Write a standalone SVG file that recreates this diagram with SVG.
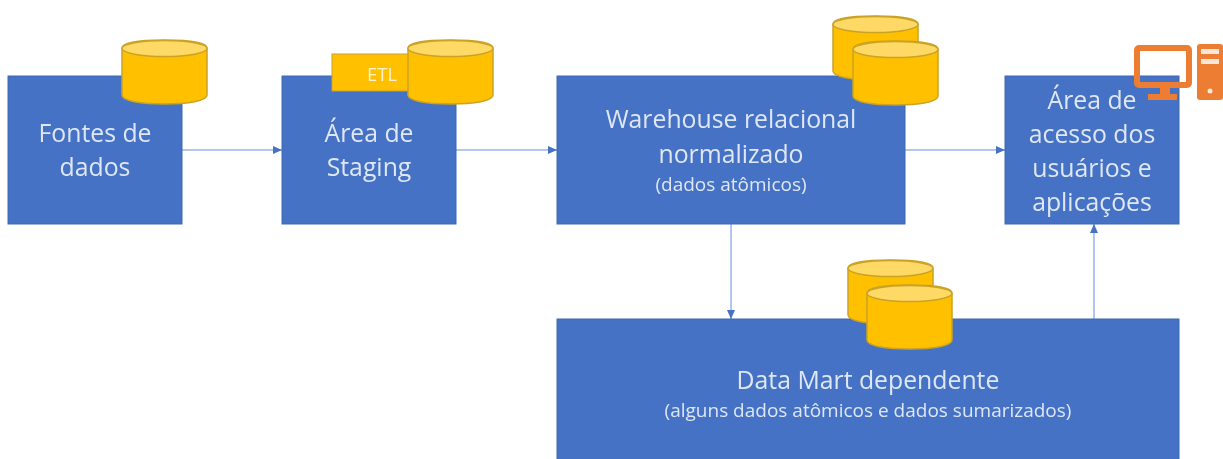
<svg xmlns="http://www.w3.org/2000/svg" width="1223" height="459" viewBox="0 0 1223 459">
<style>
.box{fill:#4472c4;stroke:#3f68b2;stroke-width:1}
.t{font-family:"Open Sans","Noto Sans",sans-serif;fill:#dfe7f5;text-anchor:middle}
.l{font-size:24.8px}
.s{font-size:19px}
.e{font-size:18.500px;fill:#fff2cc}
.body{fill:#ffc000;stroke:#c9a227;stroke-width:1.5}
.top{fill:#ffd966;stroke:#c9a227;stroke-width:1.5}
.c{stroke:#9db5e0;stroke-width:1.5;fill:none;marker-end:url(#a)}
.o{fill:#ed7d31}
.w{fill:#fbe5d6}
</style>
<defs>
<marker id="a" markerUnits="userSpaceOnUse" markerWidth="10" markerHeight="10" refX="9" refY="5" orient="auto"><path d="M0 1L9 5L0 9Z" fill="#4472c4"/></marker>
<g id="cyl"><path class="body" d="M0 8C0 2 19 0 42.500 0S85 2 85 8V55C85 61 66 64 42.500 64S0 61 0 55Z"/><ellipse class="top" cx="42.500" cy="8.500" rx="42.500" ry="8"/></g>
<filter id="b" filterUnits="userSpaceOnUse" x="0" y="0" width="1223" height="459"><feGaussianBlur stdDeviation="0.65"/></filter>
</defs>
<rect width="1223" height="459" fill="#fff"/>
<g filter="url(#b)">
<g id="connectors">
<path class="c" d="M182 150H282"/>
<path class="c" d="M456 150H557"/>
<path class="c" d="M905 150H1005"/>
<path class="c" d="M731 224V319"/>
<path class="c" d="M1094 319V224"/>
</g>
<g id="fontes"><rect class="box" x="8" y="76" width="174" height="148"/>
<text class="t l" x="95" y="142">Fontes de</text><text class="t l" x="95" y="176">dados</text>
<use href="#cyl" x="122" y="40"/></g>
<g id="staging"><rect class="box" x="282" y="76" width="174" height="148"/>
<text class="t l" x="369" y="142">Área de</text><text class="t l" x="369" y="176">Staging</text>
<rect x="332" y="54" width="78" height="37" fill="#ffc000" stroke="#c9a227"/>
<text class="t e" x="382" y="81">ETL</text>
<use href="#cyl" x="408" y="40"/></g>
<g id="warehouse"><rect class="box" x="557" y="76" width="348" height="148"/>
<text class="t l" x="731" y="128">Warehouse relacional</text><text class="t l" x="731" y="163">normalizado</text>
<text class="t s" x="731" y="191">(dados atômicos)</text>
<use href="#cyl" x="833" y="16"/><use href="#cyl" x="853" y="41"/></g>
<g id="acesso"><rect class="box" x="1005" y="76" width="174" height="148"/>
<text class="t l" x="1092" y="109">Área de</text><text class="t l" x="1092" y="143">acesso dos</text><text class="t l" x="1092" y="177">usuários e</text><text class="t l" x="1092" y="211">aplicações</text>
<rect x="1137" y="48" width="52" height="37" rx="2" fill="none" stroke="#ed7d31" stroke-width="6"/>
<rect class="o" x="1160" y="88" width="10" height="7"/><rect class="o" x="1148" y="94" width="29" height="6"/>
<rect class="o" x="1197" y="44" width="26" height="56" rx="3"/>
<rect class="w" x="1201" y="49" width="18" height="5"/><rect class="w" x="1201" y="59" width="18" height="5"/>
<circle class="w" cx="1210" cy="91" r="2.500"/></g>
<g id="datamart"><rect class="box" x="557" y="319" width="622" height="145"/>
<text class="t l" x="868" y="389">Data Mart dependente</text>
<text class="t s" x="868" y="417">(alguns dados atômicos e dados sumarizados)</text>
<use href="#cyl" x="848" y="260"/><use href="#cyl" x="867" y="285"/></g>
</g>
</svg>
